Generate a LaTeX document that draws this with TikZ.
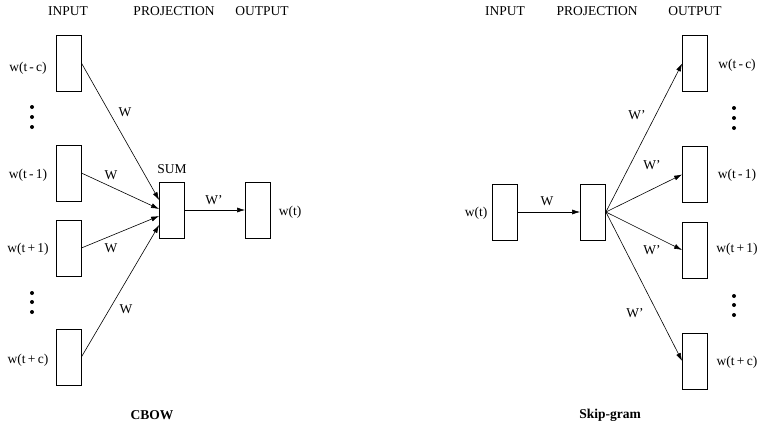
\documentclass[tikz,border=0pt]{standalone}
\usepackage{fontspec}
\setmainfont{Liberation Serif}
\usetikzlibrary{arrows.meta,calc}
\begin{document}
\begin{tikzpicture}[x=1pt,y=-1pt,
  vec/.style={draw, line width=0.8pt, minimum width=25pt, minimum height=56pt, inner sep=0pt},
  lbl/.style={font=\fontsize{13.5}{15}\selectfont, inner sep=0pt},
  ttl/.style={font=\fontsize{13.5}{15}\selectfont\bfseries, inner sep=0pt},
  conn/.style={line width=0.6pt, -{Latex[length=8pt,width=5pt]}},
  dotm/.style={fill, circle, inner sep=0pt, minimum size=4pt}]
\useasboundingbox (0,0) rectangle (766,428);
% ---------- CBOW ----------
\node[lbl] (h1) at (68,11) {INPUT};
\node[lbl] (h2) at (174,11) {PROJECTION};
\node[lbl] (h3) at (262,11) {OUTPUT};
\node[vec] (i1) at (68.5,63) {};
\node[vec] (i2) at (68.5,173) {};
\node[vec] (i3) at (68.5,248) {};
\node[vec] (i4) at (68.5,357) {};
\node[lbl] (li1) at (28,68) {w(t\,-\,c)};
\node[lbl] (li2) at (28,175) {w(t\,-\,1)};
\node[lbl] (li3) at (28,249) {w(t\,+\,1)};
\node[lbl] (li4) at (28,360) {w(t\,+\,c)};
\node[dotm] (d1) at (32,107) {};
\node[dotm] (d2) at (32,117) {};
\node[dotm] (d3) at (32,127) {};
\node[dotm] (d4) at (32,293) {};
\node[dotm] (d5) at (32,302) {};
\node[dotm] (d6) at (32,312) {};
\node[vec] (sum) at (172,210) {};
\node[lbl] (lsum) at (172,169) {SUM};
\node[vec] (out) at (258,210) {};
\node[lbl] (lout) at (290,212) {w(t)};
\draw[conn] (i1.east) -- ($(sum.west)+(0,-10)$);
\draw[conn] (i2.east) -- ($(sum.west)+(0,-1)$);
\draw[conn] (i3.east) -- ($(sum.west)+(0,6)$);
\draw[conn] (i4.east) -- ($(sum.west)+(0,15)$);
\draw[conn] (sum.east) -- (out.west);
\node[lbl] (w1) at (125,112) {W};
\node[lbl] (w2) at (111,175) {W};
\node[lbl] (w3) at (111,248) {W};
\node[lbl] (w4) at (126,309) {W};
\node[lbl] (w5) at (214,200) {W'};
\node[ttl] (cbow) at (152,415) {CBOW};
% ---------- Skip-gram ----------
\node[lbl] (h4) at (505,11) {INPUT};
\node[lbl] (h5) at (597,11) {PROJECTION};
\node[lbl] (h6) at (695,11) {OUTPUT};
\node[vec] (sin) at (504.5,212) {};
\node[lbl] (lsin) at (476,213) {w(t)};
\node[vec] (proj) at (593,212) {};
\draw[conn] (sin.east) -- (proj.west);
\node[lbl] (sw) at (547,201) {W};
\node[vec] (o1) at (695,63.5) {};
\node[vec] (o2) at (695,174.5) {};
\node[vec] (o3) at (695,250) {};
\node[vec] (o4) at (695,361) {};
\node[lbl] (lo1) at (737,65) {w(t\,-\,c)};
\node[lbl] (lo2) at (737,175) {w(t\,-\,1)};
\node[lbl] (lo3) at (737,249) {w(t\,+\,1)};
\node[lbl] (lo4) at (737,362) {w(t\,+\,c)};
\node[dotm] (e1) at (734,108) {};
\node[dotm] (e2) at (734,118) {};
\node[dotm] (e3) at (734,128) {};
\node[dotm] (e4) at (734,296) {};
\node[dotm] (e5) at (734,305) {};
\node[dotm] (e6) at (734,315) {};
\draw[conn] (proj.east) -- (o1.west);
\draw[conn] (proj.east) -- (o2.west);
\draw[conn] (proj.east) -- (o3.west);
\draw[conn] (proj.east) -- (o4.west);
\node[lbl] (sw1) at (637,115) {W'};
\node[lbl] (sw2) at (652,165) {W'};
\node[lbl] (sw3) at (652,250) {W'};
\node[lbl] (sw4) at (635,313) {W'};
\node[ttl] (skip) at (610,415) {Skip-gram};
\end{tikzpicture}
\end{document}
